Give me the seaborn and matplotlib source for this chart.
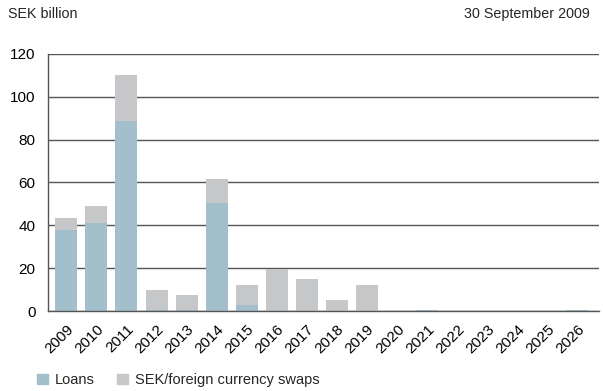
import matplotlib
matplotlib.use("Agg")
import matplotlib.pyplot as plt
import seaborn as sns
import pandas as pd
from matplotlib.patches import Patch

years = [str(y) for y in range(2009, 2027)]
loans = [37.7, 41.0, 88.7, 0.7, 0.7, 50.4, 2.6, 0, 0, 0, 0, 0, 0.5, 0, 0, 0, 0, 0.7]
swaps = [5.6, 7.9, 21.6, 9.1, 6.6, 11.2, 9.4, 19.8, 14.8, 5.0, 12.0, 0, 0, 0, 0, 0, 0, 0]
yticks = [0, 20, 40, 60, 80, 100, 120]

loan_color = "#a4bfcc"
swap_color = "#c6c7c9"
line_color = "#555555"

df = pd.DataFrame({"year": years, "loans": loans, "swaps": swaps})
df["total"] = df["loans"] + df["swaps"]

sns.set_theme(style="white")
plt.rcParams["font.family"] = ["Liberation Sans", "DejaVu Sans"]

fig = plt.figure(figsize=(6.03, 3.91), dpi=100)
ax = fig.add_axes([0.0796, 0.2046, 0.9134, 0.6574])

# Stacked bars: full height in grey, loan share drawn over it in blue
sns.barplot(data=df, x="year", y="total", color=swap_color, width=0.73,
            saturation=1, linewidth=0, ax=ax, zorder=3)
sns.barplot(data=df, x="year", y="loans", color=loan_color, width=0.73,
            saturation=1, linewidth=0, ax=ax, zorder=4)

ax.set_ylim(0, 120)
ax.set_xlim(-0.61, 17.71)
ax.set_yticks(yticks)
ax.set_yticklabels([str(t) for t in yticks], fontsize=11)
ax.yaxis.grid(True, color=line_color, linewidth=1, zorder=0)
ax.set_axisbelow(True)
ax.set_xlabel("")
ax.set_ylabel("")
ax.tick_params(axis="both", length=0, colors="black")
ax.tick_params(axis="y", pad=9)
ax.tick_params(axis="x", pad=8)
for lbl in ax.get_xticklabels():
    lbl.set_rotation(45)
    lbl.set_ha("right")
    lbl.set_va("top")
    lbl.set_rotation_mode("anchor")
    lbl.set_fontsize(11)

for side in ["top", "right"]:
    ax.spines[side].set_visible(False)
for side in ["left", "bottom"]:
    ax.spines[side].set_color(line_color)
    ax.spines[side].set_linewidth(1)
    ax.spines[side].set_zorder(5)

fig.text(8 / 603, 1 - 14 / 391, "SEK billion", fontsize=10.3, va="center", ha="left")
fig.text(590 / 603, 1 - 14 / 391, "30 September 2009", fontsize=10.3, va="center", ha="right")

handles = [Patch(color=loan_color, label="Loans"),
           Patch(color=swap_color, label="SEK/foreign currency swaps")]
fig.legend(handles=handles, loc="center left", bbox_to_anchor=(37 / 603, 1 - 380 / 391),
           ncol=2, frameon=False, fontsize=10.5, handlelength=0.75, handleheight=0.75,
           handletextpad=0.5, columnspacing=1.5, borderaxespad=0, borderpad=0)

fig.savefig("out.png", dpi=100)
